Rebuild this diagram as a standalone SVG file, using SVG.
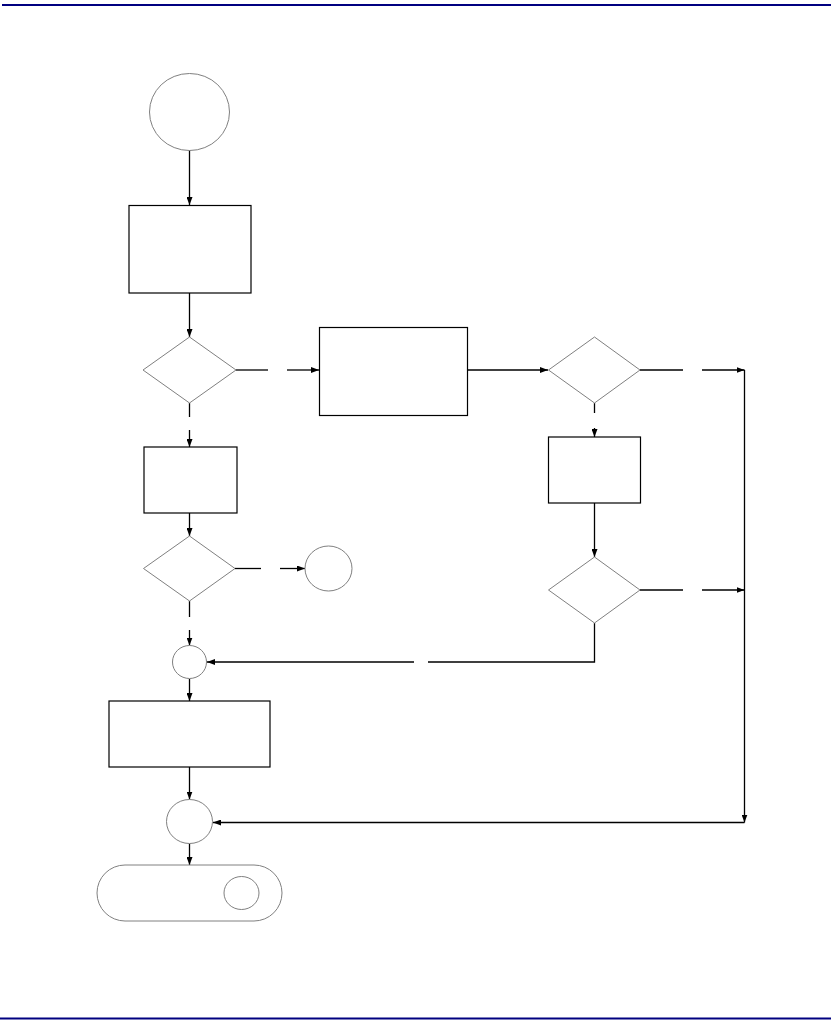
<svg xmlns="http://www.w3.org/2000/svg" width="831" height="1029" viewBox="0 0 831 1029">
<style>
.box{fill:#fff;stroke:#000;stroke-width:1.2}
.shape{fill:#fff;stroke:#808080;stroke-width:1}
.ln{fill:none;stroke:#000;stroke-width:1.3}
.rule{stroke:#000080;stroke-width:2.2}
</style>
<defs>
<marker id="ah" viewBox="0 0 8 6" refX="8" refY="3" markerWidth="8" markerHeight="6" markerUnits="userSpaceOnUse" orient="auto">
<path d="M0,0 L8,3 L0,6 Z" fill="#000"/>
</marker>
</defs>
<rect width="831" height="1029" fill="#fff"/>
<line class="rule" x1="2" y1="5" x2="831" y2="5"/>
<line class="rule" x1="0" y1="1018.5" x2="831" y2="1018.5"/>
<g id="connectors">
<line class="ln" x1="189.5" y1="150" x2="189.5" y2="205" marker-end="url(#ah)"/>
<line class="ln" x1="189.5" y1="293" x2="189.5" y2="337" marker-end="url(#ah)"/>
<line class="ln" x1="236" y1="370" x2="268" y2="370"/>
<line class="ln" x1="287" y1="370" x2="319" y2="370" marker-end="url(#ah)"/>
<line class="ln" x1="189.5" y1="403" x2="189.5" y2="417"/>
<line class="ln" x1="189.5" y1="430" x2="189.5" y2="447" marker-end="url(#ah)"/>
<line class="ln" x1="467" y1="370" x2="548" y2="370" marker-end="url(#ah)"/>
<line class="ln" x1="640" y1="370" x2="683" y2="370"/>
<line class="ln" x1="702" y1="370" x2="744.5" y2="370" marker-end="url(#ah)"/>
<line class="ln" x1="744.5" y1="370" x2="744.5" y2="822.5" marker-end="url(#ah)"/>
<line class="ln" x1="594.5" y1="403" x2="594.5" y2="413"/>
<line class="ln" x1="594.5" y1="428" x2="594.5" y2="437" marker-end="url(#ah)"/>
<line class="ln" x1="594.5" y1="503" x2="594.5" y2="557" marker-end="url(#ah)"/>
<line class="ln" x1="640" y1="590" x2="683" y2="590"/>
<line class="ln" x1="702" y1="590" x2="744.5" y2="590" marker-end="url(#ah)"/>
<polyline class="ln" points="594.5,623 594.5,662 428,662"/>
<line class="ln" x1="414" y1="662" x2="207" y2="662" marker-end="url(#ah)"/>
<line class="ln" x1="189.5" y1="513" x2="189.5" y2="536" marker-end="url(#ah)"/>
<line class="ln" x1="235" y1="568.5" x2="261" y2="568.5"/>
<line class="ln" x1="280" y1="568.5" x2="305" y2="568.5" marker-end="url(#ah)"/>
<line class="ln" x1="189.5" y1="601" x2="189.5" y2="617"/>
<line class="ln" x1="189.5" y1="630" x2="189.5" y2="645.5" marker-end="url(#ah)"/>
<line class="ln" x1="189.5" y1="679" x2="189.5" y2="701" marker-end="url(#ah)"/>
<line class="ln" x1="189.5" y1="767" x2="189.5" y2="799.5" marker-end="url(#ah)"/>
<line class="ln" x1="744.5" y1="822.5" x2="213" y2="822.5" marker-end="url(#ah)"/>
<line class="ln" x1="189.5" y1="843.5" x2="189.5" y2="865" marker-end="url(#ah)"/>
</g>
<g id="start"><ellipse class="shape" cx="189.5" cy="112" rx="40" ry="38.5"/></g>
<g id="process1"><rect class="box" x="129" y="205.5" width="122" height="87.5"/></g>
<g id="decision1"><polygon class="shape" points="189.5,337 236,370 189.5,403 143,370"/></g>
<g id="process2"><rect class="box" x="319.5" y="327.5" width="148" height="88"/></g>
<g id="decision2"><polygon class="shape" points="594.5,337 640,370 594.5,403 548.5,370"/></g>
<g id="process3"><rect class="box" x="144" y="447" width="93" height="66"/></g>
<g id="process4"><rect class="box" x="548.5" y="437" width="92" height="66"/></g>
<g id="decision3"><polygon class="shape" points="594.5,557 640,590 594.5,623 548.5,590"/></g>
<g id="decision4"><polygon class="shape" points="189.5,536 235,568.5 189.5,601 143.5,568.5"/></g>
<g id="connector-circle"><ellipse class="shape" cx="328.5" cy="568.5" rx="23.5" ry="22.5"/></g>
<g id="junction1"><ellipse class="shape" cx="189.5" cy="662" rx="17" ry="16.5"/></g>
<g id="process5"><rect class="box" x="109" y="701" width="161" height="66"/></g>
<g id="junction2"><ellipse class="shape" cx="189.5" cy="821.5" rx="23" ry="22"/></g>
<g id="end">
<rect class="shape" x="97" y="865" width="185" height="56" rx="28" ry="28"/>
<ellipse class="shape" cx="241.5" cy="893" rx="17.5" ry="16.5"/>
</g>
</svg>
